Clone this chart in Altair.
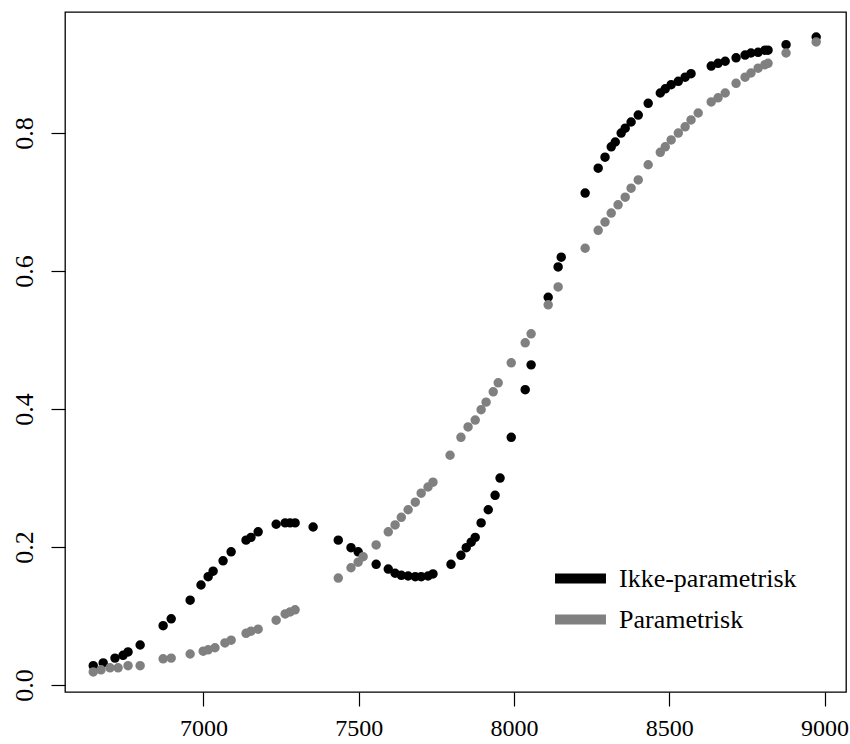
import altair as alt
import pandas as pd

# Non-parametric estimate
ikke_x = [6645, 6677, 6715, 6741, 6757, 6796, 6870, 6896, 6957, 6992, 7015, 7031,
          7063, 7089, 7137, 7153, 7176, 7234, 7263, 7279, 7295, 7353, 7434, 7475,
          7498, 7556, 7595, 7617, 7637, 7659, 7682, 7701, 7723, 7739, 7797, 7829,
          7846, 7862, 7875, 7894, 7917, 7939, 7955, 7991, 8036, 8055, 8110, 8142,
          8152, 8229, 8271, 8293, 8313, 8326, 8345, 8358, 8377, 8400, 8432, 8471,
          8487, 8506, 8529, 8551, 8570, 8635, 8657, 8680, 8715, 8744, 8763, 8786,
          8808, 8818, 8876, 8973]
ikke_y = [0.028, 0.032, 0.039, 0.043, 0.048, 0.058, 0.086, 0.096, 0.123, 0.145, 0.157, 0.165,
          0.180, 0.193, 0.210, 0.214, 0.222, 0.233, 0.235, 0.235, 0.235, 0.229, 0.210, 0.199,
          0.193, 0.175, 0.168, 0.162, 0.159, 0.158, 0.157, 0.157, 0.158, 0.161, 0.175, 0.188,
          0.199, 0.207, 0.214, 0.235, 0.254, 0.275, 0.300, 0.359, 0.428, 0.464, 0.562, 0.606,
          0.620, 0.713, 0.749, 0.765, 0.780, 0.787, 0.800, 0.807, 0.816, 0.826, 0.843, 0.858,
          0.864, 0.870, 0.875, 0.881, 0.886, 0.897, 0.901, 0.904, 0.909, 0.913, 0.916, 0.917,
          0.920, 0.920, 0.928, 0.939]

# Parametric estimate
param_x = [6645, 6670, 6699, 6725, 6757, 6796, 6870, 6896, 6957, 6999, 7015, 7037,
           7069, 7089, 7137, 7153, 7176, 7234, 7263, 7279, 7295, 7434, 7475, 7498,
           7514, 7556, 7595, 7617, 7637, 7659, 7682, 7701, 7723, 7739, 7794, 7829,
           7852, 7875, 7894, 7910, 7933, 7949, 7991, 8036, 8055, 8110, 8142, 8229,
           8271, 8293, 8313, 8335, 8358, 8377, 8400, 8432, 8471, 8487, 8506, 8529,
           8551, 8570, 8593, 8635, 8657, 8680, 8715, 8744, 8763, 8786, 8808, 8818,
           8876, 8973]
param_y = [0.019, 0.022, 0.025, 0.025, 0.028, 0.028, 0.038, 0.039, 0.045, 0.049, 0.051, 0.054,
           0.061, 0.065, 0.075, 0.078, 0.081, 0.094, 0.103, 0.106, 0.109, 0.155, 0.170, 0.178,
           0.186, 0.203, 0.222, 0.232, 0.243, 0.254, 0.265, 0.278, 0.287, 0.294, 0.333, 0.359,
           0.374, 0.384, 0.399, 0.410, 0.425, 0.438, 0.467, 0.496, 0.509, 0.551, 0.577, 0.633,
           0.659, 0.671, 0.684, 0.696, 0.707, 0.720, 0.732, 0.754, 0.772, 0.780, 0.790, 0.800,
           0.809, 0.819, 0.829, 0.845, 0.851, 0.858, 0.872, 0.881, 0.887, 0.894, 0.899, 0.901,
           0.916, 0.932]

series_names = ["Ikke-parametrisk", "Parametrisk"]
series_colors = ["#000000", "#808080"]
x_ticks = [7000, 7500, 8000, 8500, 9000]
y_ticks = [0.0, 0.2, 0.4, 0.6, 0.8]

df = pd.concat([
    pd.DataFrame({"x": ikke_x, "y": ikke_y, "serie": series_names[0]}),
    pd.DataFrame({"x": param_x, "y": param_y, "serie": series_names[1]}),
], ignore_index=True)

font = "Liberation Serif"

series_scale = alt.Scale(domain=series_names, range=series_colors)
# wide, flat line segment as the legend key
series_legend = alt.Legend(
    title=None, orient="none", legendX=495, legendY=546,
    symbolType="M-1.67,0H1.67", symbolSize=930, symbolStrokeWidth=10,
    labelFont=font, labelFontSize=26, labelColor="#000000", labelLimit=0,
    labelOffset=18, padding=0, rowPadding=0,
)

chart = alt.Chart(df).mark_circle(size=56, opacity=1).encode(
    x=alt.X("x:Q",
            scale=alt.Scale(domain=[6554, 9069], nice=False, zero=False),
            axis=alt.Axis(values=x_ticks, format="d", title=None)),
    y=alt.Y("y:Q",
            scale=alt.Scale(domain=[-0.0101, 0.9754], nice=False, zero=False),
            axis=alt.Axis(values=y_ticks, format=".1f", title=None,
                          labelAngle=270, labelAlign="center",
                          labelBaseline="alphabetic", labelPadding=19)),
    color=alt.Color("serie:N", scale=series_scale, legend=series_legend),
    stroke=alt.Stroke("serie:N", scale=series_scale, legend=series_legend),
    order=alt.Order("serie:N", sort="ascending"),
).properties(
    width=781,
    height=680,
    background="white",
    autosize=alt.AutoSizeParams(type="none"),
    padding={"left": 65, "top": 12, "right": 4, "bottom": 52},
).configure_view(
    stroke="#000000", strokeWidth=1.3
).configure_axis(
    domain=False, grid=False,
    ticks=True, tickColor="#000000", tickSize=14, tickWidth=1.2,
    labelFont=font, labelFontSize=26, labelColor="#000000",
).configure_axisX(
    labelPadding=10, labelFontSize=24
)

chart.save("out.html", embed_options={"renderer": "svg", "actions": False})
